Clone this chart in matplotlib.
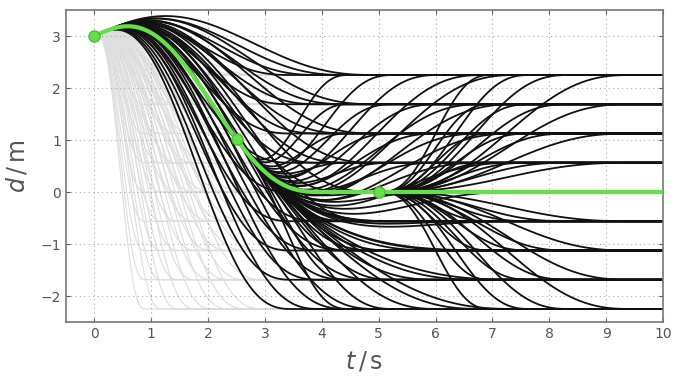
import numpy as np
import matplotlib
matplotlib.use("Agg")
import matplotlib.pyplot as plt

# lateral target offsets (m)
levels = [-2.25, -1.6875, -1.125, -0.5625, 0.0, 0.5625, 1.125, 1.6875, 2.25]

# start state of the first planning step
d_start = 3.0
v_start = 0.5

# end times of the alternatives (s)
gray_T = [0.9, 1.2, 1.5, 1.8, 2.1, 2.4, 2.7, 3.0]
blackA_T = [3.5, 4.0, 4.5, 5.0]
blackB_T = [2.0, 2.8, 3.6, 4.4, 5.0]
blackC_T = [2.0, 2.7, 3.4, 4.5]

# chosen trajectory
green_T = 4.0
green_target = 0.0
replan_t = [0.0, 2.5, 5.0]

t_end = 10.0
gray_end = 3.4


def quintic(d0, v0, a0, d1, T):
    M = np.array([[1, 0, 0, 0, 0, 0],
                  [0, 1, 0, 0, 0, 0],
                  [0, 0, 2, 0, 0, 0],
                  [1, T, T**2, T**3, T**4, T**5],
                  [0, 1, 2*T, 3*T**2, 4*T**3, 5*T**4],
                  [0, 0, 2, 6*T, 12*T**2, 20*T**3]], float)
    return np.linalg.solve(M, [d0, v0, a0, d1, 0, 0])


def state(c, t):
    p = np.polynomial.polynomial
    return p.polyval(t, c), p.polyval(t, p.polyder(c)), p.polyval(t, p.polyder(c, 2))


def path(t0, d0, v0, a0, d1, T, tmax):
    c = quintic(d0, v0, a0, d1, T)
    tt = np.linspace(0, T, 120)
    x = np.concatenate([t0 + tt, [max(tmax, t0 + T)]])
    y = np.concatenate([np.polyval(c[::-1], tt), [d1]])
    return x, y


fig = plt.figure(figsize=(6.93, 3.84), dpi=100)
ax = fig.add_axes([66/693, 1-322/384, (663-66)/693, (322-10)/384])

for T in gray_T:
    for d1 in levels:
        x, y = path(0, d_start, v_start, 0, d1, T, gray_end)
        ax.plot(x, y, color="#dddddd", lw=0.8, zorder=1)

gc = quintic(d_start, v_start, 0, green_target, green_T)
dB, vB, aB = state(gc, replan_t[1] - replan_t[0])

for T in blackA_T:
    for d1 in levels:
        x, y = path(0, d_start, v_start, 0, d1, T, t_end)
        ax.plot(x, y, color="#111111", lw=1.3, zorder=2)
for T in blackB_T:
    for d1 in levels:
        x, y = path(replan_t[1], dB, vB, aB, d1, T, t_end)
        ax.plot(x, y, color="#111111", lw=1.3, zorder=2)
for T in blackC_T:
    for d1 in levels:
        x, y = path(replan_t[2], green_target, 0, 0, d1, T, t_end)
        ax.plot(x, y, color="#111111", lw=1.3, zorder=2)

gx, gy = path(0, d_start, v_start, 0, green_target, green_T, t_end)
ax.plot(gx, gy, color="#66e04a", lw=3, zorder=3)
mk_y = [np.interp(t, gx, gy) for t in replan_t]
ax.plot(replan_t, mk_y, "o", ms=8, color="#66e04a", mec="#4cbb33", zorder=4)

ax.set_xlim(-0.5, 10)
ax.set_ylim(-2.5, 3.5)
ax.set_xticks(range(0, 11))
ax.set_yticks([-2, -1, 0, 1, 2, 3])
ax.grid(True, ls=(0, (1, 3)), color="#aaaaaa", lw=0.8)
ax.tick_params(direction="in", top=True, right=True, colors="#555555", labelsize=10,
               labelcolor="#555555", length=3)
for s in ax.spines.values():
    s.set_color("#777777")
    s.set_linewidth(1.2)
ax.set_xlabel(r"$t\,/\,\mathrm{s}$", fontsize=17, color="#555555", labelpad=6)
ax.set_ylabel(r"$d\,/\,\mathrm{m}$", fontsize=17, color="#555555", labelpad=8)

fig.savefig("out.png", dpi=100)
